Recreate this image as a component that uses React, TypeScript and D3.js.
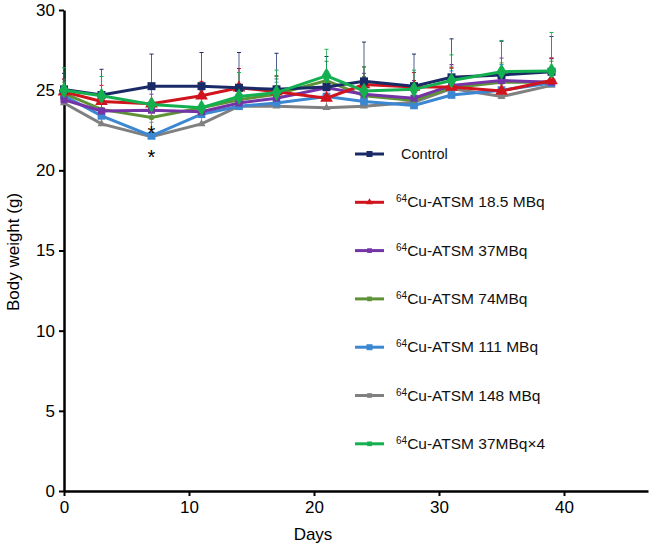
import * as d3 from "d3";
import { useEffect, useRef } from "react";

// Data
const days = [0, 3, 7, 11, 14, 17, 21, 24, 28, 31, 35, 39];
const control = [25.05, 24.7, 25.25, 25.25, 25.15, 25.05, 25.2, 25.55, 25.25, 25.8, 25.95, 26.15];
const cu185 = [24.9, 24.3, 24.15, 24.65, 25.15, 24.9, 24.5, 25.35, 25.2, 25.2, 24.95, 25.6];
const cu37 = [24.4, 23.7, 23.75, 23.65, 24.2, 24.5, 25.15, 24.75, 24.5, 25.3, 25.6, 25.5];
const cu74 = [24.8, 23.8, 23.3, 23.9, 24.4, 24.75, 25.6, 24.65, 24.35, 25.15, 25.5, 25.5];
const cu111 = [24.65, 23.4, 22.15, 23.5, 24.0, 24.2, 24.6, 24.3, 24.05, 24.7, 25.0, 25.45];
const cu148 = [24.2, 22.9, 22.1, 22.9, 24.0, 24.0, 23.9, 24.0, 24.25, 25.1, 24.6, 25.3];
const cu37x4 = [25.0, 24.65, 24.1, 23.9, 24.6, 24.85, 25.9, 24.95, 25.05, 25.6, 26.15, 26.2];

// upper SD
const controlSd = [1.0, 1.6, 2.0, 2.1, 2.2, 2.25, 1.9, 2.45, 2.0, 2.4, 2.1, 2.2];
const cu185Sd = [0.8, 1.0, 1.1, 0.9, 1.2, 1.0, 1.3, 1.1, 0.9, 1.2, 1.3, 1.4];
const cu37Sd = [0.9, 0.8, 1.0, 1.0, 1.1, 1.2, 1.0, 1.3, 1.1, 1.3, 1.4, 1.5];
const cu74Sd = [0.7, 0.9, 0.8, 1.1, 1.0, 1.1, 1.2, 1.2, 1.0, 1.2, 1.2, 1.3];
const cu111Sd = [1.0, 1.1, 1.2, 1.0, 1.3, 1.3, 1.4, 1.5, 1.3, 1.5, 1.6, 1.5];
const cu148Sd = [0.9, 1.0, 0.9, 1.2, 1.2, 1.3, 1.5, 1.4, 1.2, 1.4, 1.6, 1.7];
const cu37x4Sd = [1.4, 1.2, 1.0, 1.1, 1.5, 1.4, 1.65, 1.5, 1.2, 1.6, 1.95, 2.4];

const seriesLabels = ["Control", "Cu-ATSM 18.5 MBq", "Cu-ATSM 37MBq", "Cu-ATSM 74MBq", "Cu-ATSM  111 MBq", "Cu-ATSM 148 MBq", "Cu-ATSM 37MBq×4"];
const yTicks = [0, 5, 10, 15, 20, 25, 30];
const xTicks = [0, 10, 20, 30, 40];

const series = [
  { name: seriesLabels[5], vals: cu148, sd: cu148Sd, color: "#808080", sym: d3.symbolTriangle, size: 28, legend: 5 },
  { name: seriesLabels[4], vals: cu111, sd: cu111Sd, color: "#3b87d1", sym: d3.symbolSquare, size: 60, legend: 4 },
  { name: seriesLabels[3], vals: cu74, sd: cu74Sd, color: "#5e9237", sym: d3.symbolCircle, size: 24, legend: 3 },
  { name: seriesLabels[2], vals: cu37, sd: cu37Sd, color: "#7434a6", sym: d3.symbolSquare, size: 50, legend: 2 },
  { name: seriesLabels[1], vals: cu185, sd: cu185Sd, color: "#d0141e", sym: d3.symbolTriangle, size: 70, legend: 1 },
  { name: seriesLabels[0], vals: control, sd: controlSd, color: "#1a2a66", sym: d3.symbolSquare, size: 64, legend: 0 },
  { name: seriesLabels[6], vals: cu37x4, sd: cu37x4Sd, color: "#14b050", sym: d3.symbolDiamond, size: 80, legend: 6 },
];

const drawChart = (el: SVGSVGElement) => {
  const svg = d3.select(el);
  svg.selectAll("*").remove();
  const font = "Liberation Sans, Arial, sans-serif";

  const x = d3.scaleLinear().domain([0, 46.72]).range([64, 648]);
  const y = d3.scaleLinear().domain([0, 30]).range([491, 10]);

  // axes
  const yAxis = d3.axisLeft(y).tickValues(yTicks).tickSize(5).tickSizeOuter(0);
  const yg = svg.append("g").attr("transform", `translate(${x(0)},0)`).call(yAxis);
  yg.select(".domain").attr("stroke", "#000").attr("stroke-width", 2.5);
  yg.selectAll(".tick line").attr("stroke", "#000").attr("stroke-width", 2);
  yg.selectAll(".tick text").attr("font-size", 17).attr("font-family", font).attr("x", -9).attr("fill", "#000");

  const xAxis = d3.axisBottom(x).tickValues(xTicks).tickSize(5).tickSizeOuter(0);
  const xg = svg.append("g").attr("transform", `translate(0,${y(0)})`).call(xAxis);
  xg.select(".domain").attr("stroke", "#000").attr("stroke-width", 2.5);
  xg.selectAll(".tick line").attr("stroke", "#000").attr("stroke-width", 2);
  xg.selectAll(".tick text").attr("font-size", 17).attr("font-family", font).attr("y", 10).attr("fill", "#000");

  svg.append("text")
    .attr("x", 313).attr("y", 540)
    .attr("text-anchor", "middle")
    .attr("font-size", 17).attr("font-family", font)
    .text("Days");

  svg.append("text")
    .attr("transform", "rotate(-90)")
    .attr("x", -252).attr("y", 19)
    .attr("text-anchor", "middle")
    .attr("font-size", 17).attr("font-family", font)
    .text("Body weight (g)");

  // error bars
  series.forEach(s => {
    const g = svg.append("g");
    days.forEach((d, i) => {
      const top = y(s.vals[i] + s.sd[i]);
      g.append("line")
        .attr("x1", x(d)).attr("x2", x(d))
        .attr("y1", y(s.vals[i])).attr("y2", top)
        .attr("stroke", s.color).attr("stroke-width", 1).attr("opacity", 0.75);
      g.append("line")
        .attr("x1", x(d) - 2).attr("x2", x(d) + 2)
        .attr("y1", top).attr("y2", top)
        .attr("stroke", s.color).attr("stroke-width", 1);
    });
  });

  // lines
  const line = d3.line<number>()
    .x((_, i) => x(days[i]))
    .y(v => y(v));

  series.forEach(s => {
    svg.append("path")
      .datum(s.vals)
      .attr("fill", "none")
      .attr("stroke", s.color)
      .attr("stroke-width", 3)
      .attr("d", line);
    svg.append("g").selectAll("path")
      .data(s.vals)
      .join("path")
      .attr("transform", (v, i) => `translate(${x(days[i])},${y(v)})`)
      .attr("d", d3.symbol().type(s.sym).size(s.size)())
      .attr("fill", s.color);
  });

  // asterisks
  [128, 152].forEach(py => {
    svg.append("text")
      .attr("x", x(7)).attr("y", py + 12)
      .attr("text-anchor", "middle")
      .attr("font-size", 20).attr("font-family", font)
      .text("*");
  });

  // legend
  const legend = svg.append("g");
  series.forEach(s => {
    const ly = 154 + s.legend * 48.3;
    legend.append("line")
      .attr("x1", 355).attr("x2", 384)
      .attr("y1", ly).attr("y2", ly)
      .attr("stroke", s.color).attr("stroke-width", 3);
    legend.append("path")
      .attr("transform", `translate(369.5,${ly})`)
      .attr("d", d3.symbol().type(s.legend === 1 ? d3.symbolTriangle : d3.symbolSquare).size(s.legend === 0 || s.legend === 4 ? 36 : 22)())
      .attr("fill", s.color);
    const t = legend.append("text")
      .attr("y", ly + 5)
      .attr("font-size", 15.5).attr("font-family", font).attr("fill", "#111");
    if (s.legend === 0) {
      t.attr("x", 401).attr("font-size", 14.5).text(s.name);
    } else {
      t.attr("x", 396);
      t.append("tspan").attr("font-size", 10).attr("dy", -5).text("64");
      t.append("tspan").attr("dy", 5).text(s.name);
    }
  });
};

export default function App() {
  const ref = useRef<SVGSVGElement>(null);

  useEffect(() => {
    if (ref.current) drawChart(ref.current);
  }, []);

  return (
    <svg
      ref={ref}
      width={651}
      height={545}
      style={{ position: "absolute", left: 0, top: 0, background: "#fff" }}
    />
  );
}
